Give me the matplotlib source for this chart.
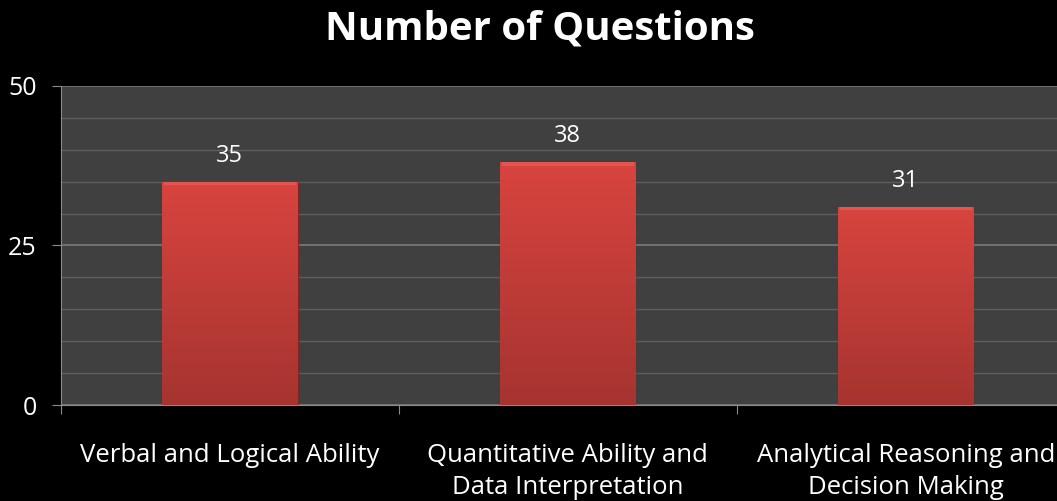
import numpy as np
import matplotlib
matplotlib.use('Agg')
import matplotlib.pyplot as plt
from matplotlib.colors import LinearSegmentedColormap

categories = ['Verbal and Logical Ability',
              'Quantitative Ability and\nData Interpretation',
              'Analytical Reasoning and\nDecision Making']
values = [35, 38, 31]

plt.rcParams['font.family'] = ['Open Sans', 'DejaVu Sans']

fig = plt.figure(figsize=(10.57, 5.01), dpi=100, facecolor='black')
ax = fig.add_axes([0.0577, 0.1916, 0.959, 0.637])
ax.set_facecolor('#404040')

x = np.arange(len(categories))
bars = ax.bar(x, values, width=0.4, color='#c93d39', edgecolor='#7e2623',
              linewidth=0.8, zorder=3)

# vertical gradient inside each bar
grad = LinearSegmentedColormap.from_list('barred', ['#a63430', '#d8443f'])
for b in bars:
    x0, w, h = b.get_x(), b.get_width(), b.get_height()
    img = ax.imshow(np.linspace(0, 1, 100).reshape(-1, 1), cmap=grad,
                    origin='lower', aspect='auto',
                    extent=[x0, x0 + w, 0, h], zorder=3.5)
    img.set_clip_path(b)
    # subtle bevel on top
    ax.fill_between([x0 + 0.005, x0 + w - 0.005], h - 0.5, h,
                    color='#e5554f', zorder=3.6, lw=0)

ax.set_xlim(-0.5, 2.5)
ax.set_ylim(0, 50)
ax.set_yticks([0, 25, 50])
ax.set_yticks(np.arange(0, 51, 5), minor=True)
ax.set_xticks([-0.5, 0.5, 1.5, 2.5])
ax.set_xticklabels([])
ax.set_xticks(x, minor=True)
ax.set_xticklabels(categories, minor=True, linespacing=1.4)

ax.grid(axis='y', which='minor', color='#5e5e5e', linewidth=1.0, zorder=1)
ax.grid(axis='y', which='major', color='#7a7a7a', linewidth=1.2, zorder=1)

ax.tick_params(axis='y', which='major', colors='#8c8c8c', length=6.5,
               labelcolor='white', labelsize=18, pad=11)
ax.tick_params(axis='y', which='minor', length=0)
ax.tick_params(axis='x', which='major', colors='#8c8c8c', length=6.5)
ax.tick_params(axis='x', which='minor', length=0, labelcolor='white',
               labelsize=18.5, pad=27)

for s in ['top', 'right']:
    ax.spines[s].set_visible(False)
ax.spines['left'].set_color('#8c8c8c')
ax.spines['bottom'].set_color('#8c8c8c')

for b, v in zip(bars, values):
    ax.text(b.get_x() + b.get_width() / 2, v + 2.2, str(v), ha='center',
            va='bottom', color='white', fontsize=17, zorder=5)

fig.text(0.511, 0.943, 'Number of Questions', ha='center', va='center',
         color='white', fontsize=29, fontweight='bold')

fig.savefig('out.png', dpi=100, facecolor='black')
